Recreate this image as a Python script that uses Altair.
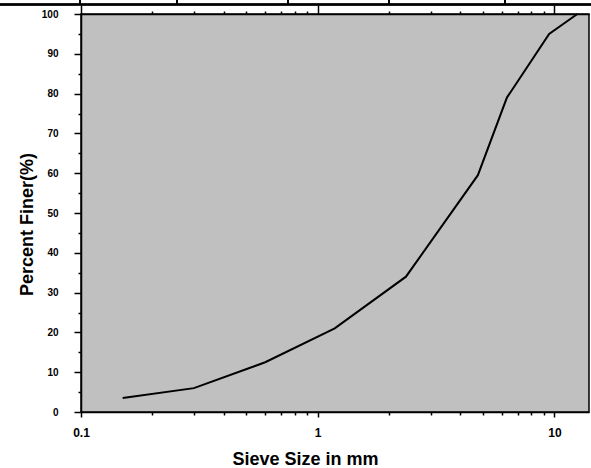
import altair as alt
import pandas as pd

# ---- data ----
sieve_mm = [0.15, 0.3, 0.6, 1.18, 2.36, 4.75, 6.3, 9.5, 12.5]
percent_finer = [3.5, 6.0, 12.5, 21.0, 34.0, 59.5, 79.0, 95.0, 100.0]

x_ticks = [0.1, 0.2, 0.3, 0.4, 0.5, 0.6, 0.7, 0.8, 0.9,
           1, 2, 3, 4, 5, 6, 7, 8, 9, 10]
x_labels = [0.1, 1, 10]
y_ticks = [0, 5, 10, 15, 20, 25, 30, 35, 40, 45, 50,
           55, 60, 65, 70, 75, 80, 85, 90, 95, 100]
y_labels = [0, 10, 20, 30, 40, 50, 60, 70, 80, 90, 100]

df = pd.DataFrame({"sieve": sieve_mm, "pct": percent_finer})
df_major = pd.DataFrame({"sieve": x_labels})

FONT = "Liberation Sans"
x_scale = alt.Scale(type="log", domain=[0.1, 14], nice=False)
y_scale = alt.Scale(domain=[0, 100], nice=False)

x_major = " || ".join(f"abs(datum.value - {v}) < 1e-6" for v in x_labels)
y_major = "datum.value % 10 == 0"

axis_common = dict(
    grid=False, domainColor="black", domainWidth=1.5, tickColor="black",
    tickWidth=1.5, labelColor="black", titleColor="black", labelFont=FONT,
    titleFont=FONT, labelFontWeight="bold", titleFontWeight="bold",
    labelOverlap=False,
)

x_axis_bottom = alt.Axis(
    orient="bottom", values=x_ticks,
    labelExpr=f"({x_major}) ? toString(datum.value) : ''",
    tickSize={"condition": {"test": x_major, "value": 5}, "value": 3},
    labelFontSize=12, labelPadding=10, labelFlush=False,
    title="Sieve Size in mm", titleFontSize=18, titleX=224, titleY=52,
    titleBaseline="alphabetic", titleAlign="center",
    **axis_common,
)

x_axis_top = alt.Axis(
    orient="top", values=x_ticks, labels=False, title=None,
    tickSize={"condition": {"test": x_major, "value": 9}, "value": 3},
    domain=True, grid=False, domainColor="black", domainWidth=1.5,
    tickColor="black", tickWidth=1.5,
)

y_axis_left = alt.Axis(
    orient="left", values=y_ticks,
    labelExpr=f"({y_major}) ? toString(datum.value) : ''",
    tickSize={"condition": {"test": y_major, "value": 7}, "value": 3},
    labelFontSize=10, labelPadding=16,
    title="Percent Finer(%)", titleFontSize=18, titleX=-49, titleY=210,
    titleBaseline="alphabetic", titleAlign="center", titleAngle=270,
    **axis_common,
)

line = alt.Chart(df).mark_line(color="black", strokeWidth=2).encode(
    x=alt.X("sieve:Q", scale=x_scale, axis=x_axis_bottom),
    y=alt.Y("pct:Q", scale=y_scale, axis=y_axis_left),
)

top_axis_layer = alt.Chart(df_major).mark_rule(opacity=0).encode(
    x=alt.X("sieve:Q", scale=x_scale, axis=x_axis_top),
)

# fragment of a table border visible above the figure
table_h = alt.Chart(df_major).mark_rule(color="black", strokeWidth=2).encode(
    x=alt.value(-81), x2=alt.value(510), y=alt.value(-9.5)
)
table_v = [
    alt.Chart(df_major).mark_rule(color="black", strokeWidth=1.5).encode(
        x=alt.value(px), y=alt.value(-14), y2=alt.value(-9)
    )
    for px in (-1, 96, 207, 308, 424)
]

chart = (
    alt.layer(line, top_axis_layer, table_h, *table_v)
    .resolve_axis(x="independent")
    .properties(
        width=508, height=398,
        padding={"left": 81, "top": 14, "right": 2, "bottom": 56},
        autosize=alt.AutoSizeParams(type="none"),
        background="white",
    )
    .configure_view(fill="#c0c0c0", stroke="black", strokeWidth=1.5)
)

chart.save("out.html", embed_options={"renderer": "svg", "actions": False})
